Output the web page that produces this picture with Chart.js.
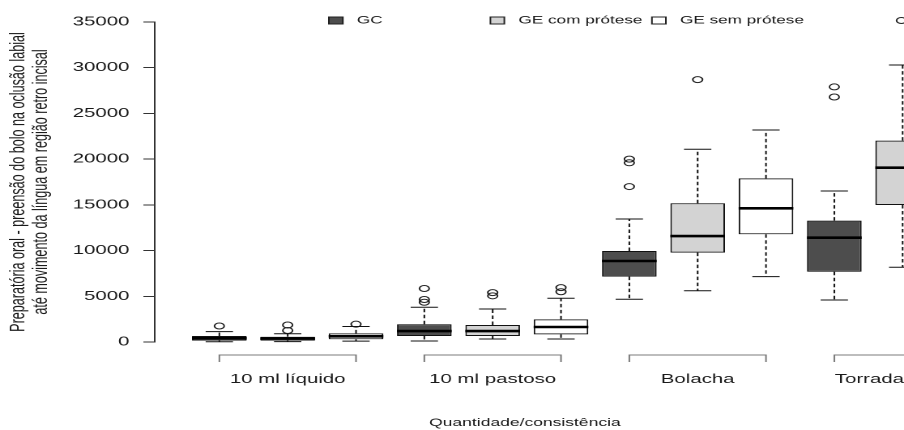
<!DOCTYPE html>
<html>
<head>
<meta charset="utf-8">
<script src="https://cdn.jsdelivr.net/npm/chart.js@4.4.1/dist/chart.umd.min.js"></script>
<style>
html,body{margin:0;padding:0;background:#fff;overflow:hidden;width:904px;height:430px}
#wrap{width:558px;height:430px;transform:scaleX(1.62007);transform-origin:0 0}
</style>
</head>
<body>
<div id="wrap"><canvas id="chart" width="558" height="430"></canvas></div>
<script>
// boxplots: tempo de preensão do bolo por consistência e grupo
const categories = ["10 ml líquido", "10 ml pastoso", "Bolacha", "Torrada"];
const groups = ["GC", "GE com prótese", "GE sem prótese"];
const yTitle = ["Preparatória oral - preensão do bolo na oclusão labial", "até movimento da língua em região retro incisal"];
const xTitle = "Quantidade/consistência";

// GC
const gcLow  = [30, 110, 4670, 4590];
const gcQ1   = [150, 660, 7150, 7690];
const gcMed  = [400, 1200, 8860, 11410];
const gcQ3   = [650, 1940, 9950, 13270];
const gcHigh = [1130, 3800, 13450, 16520];
const gcOut  = [[1750], [5850, 4650, 4350], [20000, 19600, 17000], [27900, 26800]];

// GE com prótese
const gcpLow  = [40, 330, 5610, 8170];
const gcpQ1   = [150, 660, 9770, 14980];
const gcpMed  = [380, 1200, 11590, 19060];
const gcpQ3   = [580, 1860, 15170, 22020];
const gcpHigh = [900, 3610, 21080, 30300];
const gcpOut  = [[1860, 1260], [5400, 5050], [28700], []];

// GE sem prótese (Torrada fica fora da área visível)
const gspLow  = [100, 330, 7150, null];
const gspQ1   = [300, 840, 11780, null];
const gspMed  = [620, 1640, 14620, null];
const gspQ3   = [950, 2480, 17900, null];
const gspHigh = [1700, 4780, 23190, null];
const gspOut  = [[1950], [5950, 5500], [], []];

const fills = ["#4d4d4d", "#d3d3d3", "#ffffff"];
const FONT = '"Liberation Sans", Arial, sans-serif';

const series = [
  {low: gcLow, q1: gcQ1, med: gcMed, q3: gcQ3, high: gcHigh, out: gcOut},
  {low: gcpLow, q1: gcpQ1, med: gcpMed, q3: gcpQ3, high: gcpHigh, out: gcpOut},
  {low: gspLow, q1: gspQ1, med: gspMed, q3: gspQ3, high: gspHigh, out: gspOut}
];
const pos = function(gi, ci){ return ci * 3 + gi + 1; };

const boxes = [], boxColors = [], outliers = [];
categories.forEach(function(_, ci){
  series.forEach(function(s, gi){
    if (s.q1[ci] == null) return;
    boxes.push({x: pos(gi, ci), y: [s.q1[ci], s.q3[ci]]});
    boxColors.push(fills[gi]);
    s.out[ci].forEach(function(v){ outliers.push({x: pos(gi, ci), y: v}); });
  });
});

function seg(ctx, x1, y1, x2, y2){ ctx.beginPath(); ctx.moveTo(x1, y1); ctx.lineTo(x2, y2); ctx.stroke(); }

// whiskers, staples and medians
const boxExtras = {
  id: "boxExtras",
  afterDatasetsDraw(chart){
    const ctx = chart.ctx, x = chart.scales.x, y = chart.scales.y;
    ctx.save();
    ctx.lineCap = "butt";
    series.forEach(function(s, gi){
      categories.forEach(function(_, ci){
        if (s.med[ci] == null) return;
        const p = pos(gi, ci);
        const px = x.getPixelForValue(p);
        const hs = x.getPixelForValue(p + 0.2) - px;
        const hb = x.getPixelForValue(p + 0.4) - px;
        ctx.strokeStyle = "#111";
        ctx.lineWidth = 1;
        ctx.setLineDash([3.5, 2.5]);
        seg(ctx, px, y.getPixelForValue(s.q3[ci]), px, y.getPixelForValue(s.high[ci]));
        seg(ctx, px, y.getPixelForValue(s.q1[ci]), px, y.getPixelForValue(s.low[ci]));
        ctx.setLineDash([]);
        seg(ctx, px - hs, y.getPixelForValue(s.high[ci]), px + hs, y.getPixelForValue(s.high[ci]));
        seg(ctx, px - hs, y.getPixelForValue(s.low[ci]), px + hs, y.getPixelForValue(s.low[ci]));
        ctx.strokeStyle = "#000";
        ctx.lineWidth = 2.6;
        seg(ctx, px - hb, y.getPixelForValue(s.med[ci]), px + hb, y.getPixelForValue(s.med[ci]));
      });
    });
    ctx.restore();
  },
  afterDraw(chart){
    const ctx = chart.ctx, x = chart.scales.x, area = chart.chartArea;
    ctx.save();
    // group brackets and labels
    const by = area.bottom + 13;
    ctx.strokeStyle = "#7a7a7a";
    ctx.lineWidth = 1;
    ctx.fillStyle = "#1a1a1a";
    ctx.font = "12.6px " + FONT;
    ctx.textAlign = "center";
    ctx.textBaseline = "alphabetic";
    categories.forEach(function(name, ci){
      const x1 = x.getPixelForValue(ci * 3 + 1), x2 = x.getPixelForValue(ci * 3 + 3);
      ctx.beginPath();
      ctx.moveTo(x1, by + 7); ctx.lineTo(x1, by); ctx.lineTo(x2, by); ctx.lineTo(x2, by + 7);
      ctx.stroke();
      const w = ctx.measureText(name).width;
      const cx = Math.min(x.getPixelForValue(ci * 3 + 2), chart.width - w / 2);
      ctx.fillText(name, cx, 383);
    });
    ctx.font = "10.8px " + FONT;
    ctx.fillText(xTitle, 324, 426);

    // legend
    ctx.font = "10.6px " + FONT;
    ctx.textAlign = "left";
    ctx.textBaseline = "middle";
    ctx.strokeStyle = "#222";
    groups.forEach(function(g, gi){
      const lx = 203 + gi * 99.7;
      ctx.fillStyle = fills[gi];
      ctx.fillRect(lx, 17, 8.6, 7);
      ctx.strokeRect(lx, 17, 8.6, 7);
      ctx.fillStyle = "#1a1a1a";
      ctx.fillText(g, lx + 17.3, 20.8);
    });
    ctx.beginPath();
    ctx.arc(556.4, 20.5, 3, 0, Math.PI * 2);
    ctx.stroke();
    ctx.restore();
  }
};

new Chart(document.getElementById("chart"), {
  type: "bar",
  data: {
    datasets: [
      {type: "bar", data: boxes, backgroundColor: boxColors, borderColor: "#111", borderWidth: 1,
       borderSkipped: false, barPercentage: 0.8, categoryPercentage: 1},
      {type: "scatter", data: outliers, pointStyle: "circle", pointRadius: 3, borderWidth: 1,
       borderColor: "#222", backgroundColor: "rgba(0,0,0,0)"}
    ]
  },
  options: {
    responsive: false,
    animation: false,
    devicePixelRatio: 2,
    layout: {autoPadding: false, padding: {top: 22, bottom: 88, left: 0, right: 0}},
    plugins: {legend: {display: false}, tooltip: {enabled: false}},
    scales: {
      x: {
        type: "linear", display: false, offset: false, min: 0.059, max: 11.02,
        afterBuildTicks: function(s){ s.ticks = []; for (let i = 1; i <= 11; i++) s.ticks.push({value: i}); }
      },
      y: {
        min: 0, max: 35000,
        ticks: {stepSize: 5000, padding: 8.6, color: "#1a1a1a", font: {family: FONT, size: 12.6},
                callback: function(v){ return String(v); }},
        grid: {drawOnChartArea: false, tickLength: 7.2, color: "#333"},
        border: {color: "#333", width: 1},
        title: {display: true, text: yTitle, color: "#1a1a1a", padding: {top: 4.8, bottom: 0},
                font: {family: FONT, size: 12.6, lineHeight: 1.1}},
        afterFit: function(s){ s.width = 95.7; }
      }
    }
  },
  plugins: [boxExtras]
});
</script>
</body>
</html>
